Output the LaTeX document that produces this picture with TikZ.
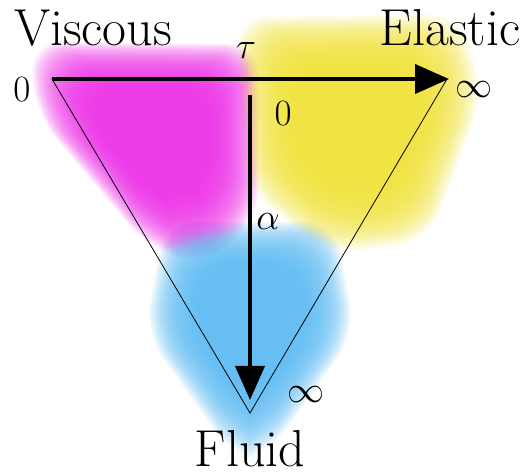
\documentclass[tikz,border=0pt]{standalone}
\usetikzlibrary{arrows.meta}
\definecolor{blobM}{RGB}{236,45,230}
\definecolor{blobY}{RGB}{240,225,53}
\definecolor{blobC}{RGB}{90,185,242}
\tikzset{
  lbl/.style={inner sep=0pt, font=\fontsize{52}{56}\selectfont},
  mlbl/.style={inner sep=0pt, font=\Huge, scale=1.49},
  axis/.style={line width=4pt, -{Triangle[length=34pt,width=29pt]}},
  tri/.style={line width=0.8pt, line join=miter},
  blob/.style={opacity=0.05, rounded corners=32pt},
}
\begin{document}
\begin{tikzpicture}[x=1pt,y=-1pt]
\useasboundingbox (0,0) rectangle (523,476);
% blobs
\foreach \s in {1.06,1.05,...,0.545}{
  \begin{scope}[shift={(250,322)}, scale=\s]
    \fill[blobC, blob] (-80,-95) -- (80,-95) -- (100,10) -- (15,128) -- (-15,128) -- (-100,10) -- cycle;
  \end{scope}
  \begin{scope}[shift={(155,135)}, scale=\s]
    \fill[blobM, blob] (-118,-88) -- (98,-86) -- (98,80) -- (45,122) -- (-5,108) -- (-113,-20) -- cycle;
  \end{scope}
  \begin{scope}[shift={(355,125)}, scale=\s]
    \fill[blobY, blob] (-113,-102) -- (98,-105) -- (122,-30) -- (70,110) -- (-25,122) -- (-103,60) -- cycle;
  \end{scope}
}
% triangle
\coordinate (A) at (52,79);
\coordinate (B) at (447,79);
\coordinate (C) at (250,413);
\coordinate (T0) at (250,95);
\coordinate (T1) at (250,400);
\coordinate (H1) at (449,79);
\draw[tri] (A) -- (B) -- (C) -- cycle;
\draw[axis] (A) -- (H1);
\draw[axis] (T0) -- (T1);
% labels
\node[lbl, anchor=base] (visc) at (93,46) {Viscous};
\node[lbl, anchor=base] (elas) at (450,46) {Elastic};
\node[lbl, anchor=base] (flu) at (250,466) {Fluid};
\node[mlbl] (tau) at (246,51) {$\tau$};
\node[mlbl] (z1) at (22,90) {$0$};
\node[mlbl] (inf1) at (474,90) {$\infty$};
\node[mlbl] (z2) at (283,114) {$0$};
\node[mlbl] (al) at (268,222) {$\alpha$};
\node[mlbl] (inf2) at (306,395) {$\infty$};
\end{tikzpicture}
\end{document}
